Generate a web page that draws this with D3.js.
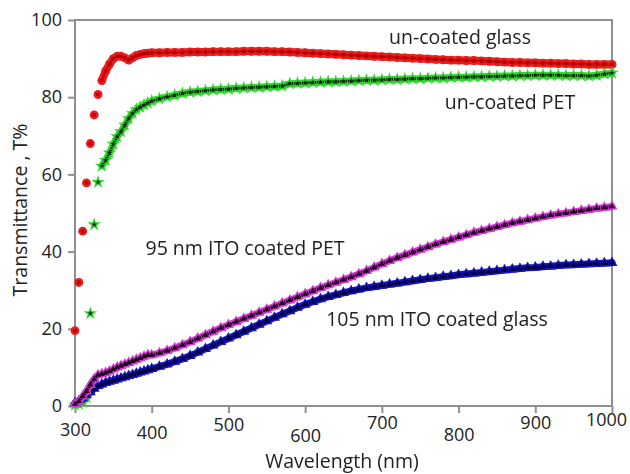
<!DOCTYPE html>
<html>
<head>
<meta charset="utf-8">
<script src="https://cdn.jsdelivr.net/npm/d3@7"></script>
<style>
  body { margin: 0; background: #fff; }
  svg text { font-family: "Open Sans", "Noto Sans", sans-serif; fill: #222; }
</style>
</head>
<body>
<div id="chart"></div>
<script>
// sampling grid: 5 nm steps below 400 nm, 10 nm above
var wavelengths = d3.range(300, 400, 5).concat(d3.range(400, 1001, 10));

var uncoatedGlass = [
  19.5, 32.0, 45.3, 57.8, 68.0, 75.4, 80.7, 84.3, 86.8, 88.6,
  90.0, 90.6, 90.6, 90.2, 89.6, 90.2, 90.8, 91.1, 91.3, 91.4,
  91.5, 91.5, 91.6, 91.6, 91.6, 91.7, 91.7, 91.7, 91.8, 91.8,
  91.8, 91.8, 91.9, 91.9, 91.9, 91.9, 91.8, 91.8, 91.7, 91.6,
  91.5, 91.4, 91.3, 91.2, 91.1, 91.0, 90.9, 90.8, 90.7, 90.6,
  90.5, 90.4, 90.3, 90.2, 90.1, 90.0, 89.9, 89.8, 89.7, 89.6,
  89.6, 89.5, 89.5, 89.4, 89.3, 89.2, 89.1, 89.0, 89.0, 88.9,
  88.9, 88.8, 88.8, 88.7, 88.7, 88.6, 88.6, 88.5, 88.5, 88.5, 88.5
];

var uncoatedPET = [
  0.3, 0.5, 1.0, 2.2, 24.0, 47.0, 58.0, 62.2, 63.7, 65.6,
  67.9, 69.8, 71.1, 72.8, 74.5, 75.8, 76.8, 77.4, 78.0, 78.5,
  79.0, 79.6, 80.1, 80.5, 81.0, 81.3, 81.5, 81.7, 81.9, 82.0,
  82.1, 82.3, 82.4, 82.5, 82.6, 82.7, 82.8, 82.9, 83.5, 83.6,
  83.7, 83.8, 83.9, 84.0, 84.0, 84.1, 84.2, 84.3, 84.4, 84.4,
  84.5, 84.6, 84.6, 84.7, 84.8, 84.8, 84.9, 85.0, 85.0, 85.1,
  85.2, 85.2, 85.3, 85.3, 85.4, 85.4, 85.5, 85.5, 85.6, 85.6,
  85.7, 85.7, 85.7, 85.7, 85.6, 85.6, 85.6, 85.5, 85.7, 86.0, 86.3
];

var itoPET = [
  0.5, 1.2, 2.5, 3.8, 5.5, 7.0, 8.0, 8.3, 8.6, 9.0,
  9.5, 10.0, 10.4, 10.8, 11.2, 11.6, 12.0, 12.4, 12.8, 13.2,
  13.2, 13.7, 14.3, 15.0, 15.8, 16.6, 17.5, 18.4, 19.3, 20.2,
  21.0, 21.8, 22.6, 23.4, 24.2, 25.0, 25.8, 26.6, 27.4, 28.2,
  29.0, 29.8, 30.6, 31.3, 32.0, 32.7, 33.4, 34.2, 35.0, 35.9,
  36.8, 37.6, 38.4, 39.1, 39.8, 40.5, 41.2, 41.9, 42.5, 43.1,
  43.7, 44.3, 44.9, 45.4, 45.9, 46.4, 46.9, 47.4, 47.8, 48.2,
  48.6, 49.0, 49.4, 49.7, 50.0, 50.3, 50.6, 50.9, 51.2, 51.4, 51.7
];

var itoGlass = [
  0.8, 1.3, 2.0, 2.8, 3.6, 4.5, 5.2, 5.6, 6.0, 6.3,
  6.6, 6.9, 7.2, 7.5, 7.8, 8.1, 8.4, 8.7, 9.0, 9.3,
  9.6, 10.2, 10.8, 11.5, 12.2, 13.0, 13.9, 14.8, 15.7, 16.6,
  17.5, 18.4, 19.3, 20.2, 21.1, 22.0, 22.9, 23.8, 24.6, 25.5,
  26.3, 27.0, 27.7, 28.3, 28.8, 29.3, 29.8, 30.2, 30.6, 30.9,
  31.2, 31.5, 31.8, 32.1, 32.4, 32.7, 33.0, 33.2, 33.5, 33.7,
  34.0, 34.2, 34.4, 34.6, 34.8, 35.0, 35.2, 35.4, 35.6, 35.8,
  35.9, 36.1, 36.2, 36.4, 36.5, 36.6, 36.7, 36.8, 36.9, 37.0, 37.1
];

var xTicks = [300, 400, 500, 600, 700, 800, 900, 1000];
var yTicks = [0, 20, 40, 60, 80, 100];
// the x labels in the picture sit at uneven heights
var xTickShift = [0, 3, -5, 6, -7, 5, -7, -10];

var labels = [
  { text: 'un-coated glass', x: 460, y: 37 },
  { text: 'un-coated PET', x: 510, y: 102 },
  { text: '95 nm ITO coated PET', x: 245, y: 248 },
  { text: '105 nm ITO coated glass', x: 437, y: 319 }
];

var width = 630, height = 474;
var axisColor = '#8f8f8f';

var x = d3.scaleLinear().domain([300, 1000]).range([75, 612]);
var y = d3.scaleLinear().domain([0, 100]).range([406, 20]);

var svg = d3.select('#chart').append('svg')
    .attr('width', width)
    .attr('height', height);

var defs = svg.append('defs');
defs.append('filter').attr('id', 'soft')
  .append('feGaussianBlur').attr('stdDeviation', 0.6);

// frame
svg.append('rect')
    .attr('x', x(300)).attr('y', y(100))
    .attr('width', x(1000) - x(300)).attr('height', y(0) - y(100))
    .attr('fill', 'none')
    .attr('stroke', axisColor)
    .attr('stroke-width', 2);

var yAxis = svg.append('g')
    .attr('transform', 'translate(' + x(300) + ',0)')
    .call(d3.axisLeft(y).tickValues(yTicks).tickSize(7).tickPadding(6));

var xAxis = svg.append('g')
    .attr('transform', 'translate(0,' + y(0) + ')')
    .call(d3.axisBottom(x).tickValues(xTicks).tickFormat(d3.format('d')).tickSize(7).tickPadding(10));

[xAxis, yAxis].forEach(function(a) {
  a.select('.domain').remove();
  a.selectAll('.tick line').attr('stroke', axisColor).attr('stroke-width', 2);
  a.selectAll('.tick text').style('font-size', '18px').attr('fill', '#222');
});

xAxis.selectAll('.tick text')
    .attr('transform', function(d, i) {
      var dx = d === 1000 ? -6 : 0;
      return 'translate(' + dx + ',' + xTickShift[i] + ')';
    });

// series: dense runs of points merge into a band, isolated points stay markers
var series = [
  { values: uncoatedGlass, type: d3.symbolCircle, size: 62, fill: '#ec1c1c', core: '#b40000', coreSize: 14, band: 8, dash: 2.5 },
  { values: uncoatedPET, type: d3.symbolStar, size: 58, fill: '#2ed62e', core: '#0a260a', coreSize: 10, band: 7, dash: 2.8 },
  { values: itoGlass, type: d3.symbolTriangle, size: 52, fill: '#1414c0', core: '#000040', coreSize: 16, band: 7, dash: 3.4 },
  { values: itoPET, type: d3.symbolTriangle, size: 52, fill: '#d838d8', core: '#1a001a', coreSize: 16, band: 7, dash: 3.4 }
];

series.forEach(function(s) {
  var pts = wavelengths.map(function(w, i) { return { w: w, t: s.values[i], px: x(w), py: y(s.values[i]) }; });

  var segs = '';
  for (var i = 1; i < pts.length; i++) {
    var a = pts[i - 1], b = pts[i];
    if (Math.hypot(b.px - a.px, b.py - a.py) < 11) {
      segs += 'M' + a.px + ',' + a.py + 'L' + b.px + ',' + b.py;
    }
  }

  var g = svg.append('g').attr('filter', 'url(#soft)');

  g.append('path')
      .attr('d', segs)
      .attr('fill', 'none')
      .attr('stroke', s.fill)
      .attr('stroke-width', s.band)
      .attr('stroke-linecap', 'round');

  g.selectAll('path.outer')
      .data(pts)
    .enter().append('path')
      .attr('class', 'outer')
      .attr('transform', function(d) { return 'translate(' + d.px + ',' + d.py + ')'; })
      .attr('d', d3.symbol().type(s.type).size(s.size))
      .attr('fill', s.fill);

  g.append('path')
      .attr('d', segs)
      .attr('fill', 'none')
      .attr('stroke', s.core)
      .attr('stroke-width', s.dash)
      .attr('stroke-dasharray', '1.3,0.9');

  g.selectAll('path.inner')
      .data(pts)
    .enter().append('path')
      .attr('class', 'inner')
      .attr('transform', function(d) { return 'translate(' + d.px + ',' + d.py + ')'; })
      .attr('d', d3.symbol().type(s.type).size(s.coreSize))
      .attr('fill', s.core);
});

// annotations
svg.selectAll('text.note')
    .data(labels)
  .enter().append('text')
    .attr('class', 'note')
    .attr('x', function(d) { return d.x; })
    .attr('y', function(d) { return d.y; })
    .attr('dy', '0.35em')
    .attr('text-anchor', 'middle')
    .style('font-size', '19.5px')
    .text(function(d) { return d.text; });

svg.append('text')
    .attr('x', 342)
    .attr('y', 461)
    .attr('dy', '0.35em')
    .attr('text-anchor', 'middle')
    .style('font-size', '19.5px')
    .text('Wavelength (nm)');

svg.append('text')
    .attr('transform', 'translate(20,' + 210 + ') rotate(-90)')
    .attr('dy', '0.35em')
    .attr('text-anchor', 'middle')
    .style('font-size', '19.5px')
    .text('Transmittance , T%');
</script>
</body>
</html>
